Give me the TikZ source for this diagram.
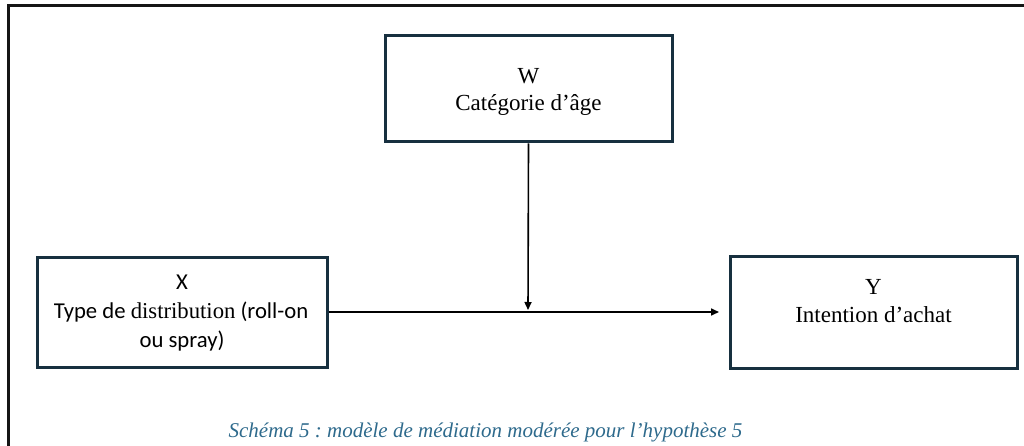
\documentclass[tikz,border=0pt]{standalone}
\usepackage{fontspec}
\setmainfont{Liberation Serif}
\newfontfamily\sansf{Carlito}
\usetikzlibrary{arrows.meta}
\definecolor{boxc}{HTML}{17303F}
\definecolor{capc}{HTML}{2E6A8C}
\definecolor{framec}{HTML}{151515}
\frenchspacing
\begin{document}
\begin{tikzpicture}[x=1pt,y=-1pt,
  box/.style={draw=boxc,line width=3pt,inner sep=0pt},
  lbl/.style={font=\fontsize{23}{27}\selectfont,inner sep=0pt,anchor=base},
  slbl/.style={font=\sansf\fontsize{22.7}{27}\selectfont,inner sep=0pt,anchor=base},
  conn/.style={draw=black,line width=1.6pt,-{Triangle[length=8pt,width=7pt]}},
  plain/.style={draw=black,line width=1.6pt}]
\useasboundingbox (0,0) rectangle (1024,446);
\draw[framec,line width=3pt] (8,447) -- (8,5.5) -- (1025,5.5);
% boxes
\node[box,minimum width=287pt,minimum height=106pt] (w) at (528.5,89) {};
\node[box,minimum width=290pt,minimum height=110pt] (x) at (182,312) {};
\node[box,minimum width=287pt,minimum height=112pt] (y) at (873.5,312) {};
% texts
\node[lbl] (wt1) at (528.5,84) {W};
\node[lbl] (wt2) at (528.5,111) {Catégorie d’âge};
\node[slbl] (xt1) at (182,289) {X};
\node[slbl] (xt2) at (181,318) {Type de {\rmfamily distribution} (roll-on};
\node[slbl] (xt3) at (182,347) {ou spray)};
\node[lbl] (yt1) at (873.5,294) {Y};
\node[lbl] (yt2) at (873.5,322) {Intention d’achat};
\node[font=\itshape\fontsize{21}{25}\selectfont,text=capc,inner sep=0pt,anchor=base] (cap) at (485.5,437) {Schéma 5 : modèle de médiation modérée pour l’hypothèse 5};
% connectors
\coordinate (yend) at (719,312);
\coordinate (mid) at (528,310);
\draw[conn] (x.east) -- (yend);
\draw[conn] (w.south) -- (mid);
\end{tikzpicture}
\end{document}
